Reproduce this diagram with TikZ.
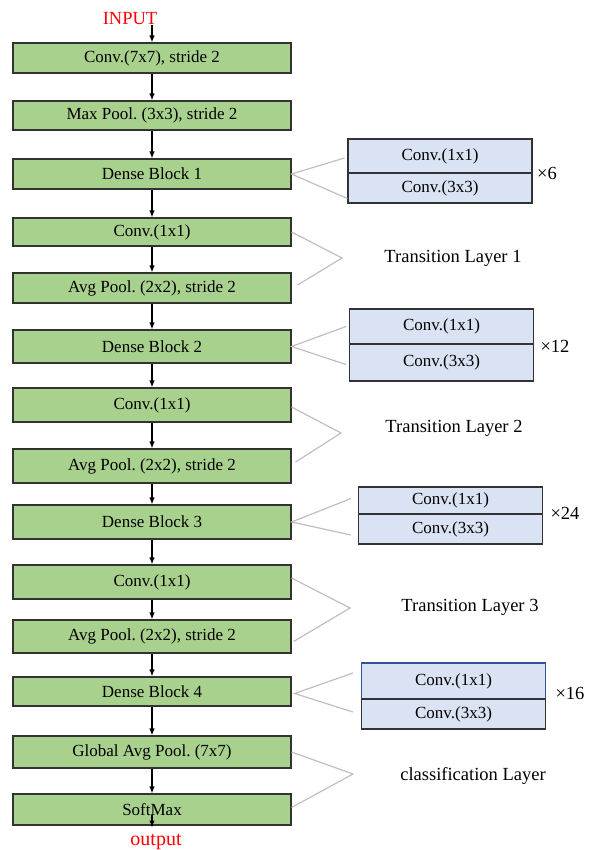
\documentclass[tikz,border=0pt]{standalone}
\usepackage{fontspec}
\setmainfont{Liberation Serif}
\usetikzlibrary{arrows.meta}
\frenchspacing

\definecolor{layergreen}{RGB}{169,209,142}
\definecolor{subblue}{RGB}{218,227,243}
\definecolor{chevgray}{RGB}{191,191,191}
\definecolor{edgeblue}{RGB}{47,85,151}

\tikzset{
  layer/.style={draw=black!80,line width=1.1pt,fill=layergreen,minimum width=278pt,minimum height=30pt,inner sep=0pt,font=\fontsize{17}{17}\selectfont},
  sub/.style={draw=black!80,line width=1.1pt,fill=subblue,minimum width=184pt,inner sep=0pt,font=\fontsize{17}{17}\selectfont},
  lbl/.style={inner sep=0pt,font=\fontsize{18.5}{18.5}\selectfont},
  arr/.style={-{Latex[length=7pt,width=5.5pt]},line width=1.2pt},
  chevron/.style={draw=chevgray,line width=1.2pt}
}

\begin{document}
\begin{tikzpicture}[x=1pt,y=-1pt]
\useasboundingbox (0,0) rectangle (591,850);
% main column
\node[lbl,text=red] (inp) at (130,19) {INPUT};
\node[layer] (c1) at (152,58) {Conv.(7x7), stride 2};
\node[layer,minimum height=29pt] (mp) at (152,115.5) {Max Pool. (3x3), stride 2};
\node[layer] (db1) at (152,174) {Dense Block 1};
\node[layer,minimum height=28pt] (tc1) at (152,232) {Conv.(1x1)};
\node[layer] (tp1) at (152,288) {Avg Pool. (2x2), stride 2};
\node[layer,minimum height=33pt] (db2) at (152,346.5) {Dense Block 2};
\node[layer,minimum height=34pt] (tc2) at (152,405) {Conv.(1x1)};
\node[layer,minimum height=34pt] (tp2) at (152,466) {Avg Pool. (2x2), stride 2};
\node[layer,minimum height=34pt] (db3) at (152,522) {Dense Block 3};
\node[layer,minimum height=34pt] (tc3) at (152,582) {Conv.(1x1)};
\node[layer,minimum height=33pt] (tp3) at (152,636.5) {Avg Pool. (2x2), stride 2};
\node[layer,minimum height=29pt] (db4) at (152,691.5) {Dense Block 4};
\node[layer,minimum height=32pt] (gap) at (152,752) {Global Avg Pool. (7x7)};
\node[layer,minimum height=31pt] (sm) at (152,809.5) {SoftMax};
\node[lbl,text=red,font=\fontsize{20}{20}\selectfont] (out) at (156,842) {output};

\draw[arr] (inp.south -| c1.north) -- (c1.north);
\draw[arr] (c1) -- (mp);
\draw[arr] (mp) -- (db1);
\draw[arr] (db1) -- (tc1);
\draw[arr] (tc1) -- (tp1);
\draw[arr] (tp1) -- (db2);
\draw[arr] (db2) -- (tc2);
\draw[arr] (tc2) -- (tp2);
\draw[arr] (tp2) -- (db3);
\draw[arr] (db3) -- (tc3);
\draw[arr] (tc3) -- (tp3);
\draw[arr] (tp3) -- (db4);
\draw[arr] (db4) -- (gap);
\draw[arr] (gap) -- (sm);
\draw[arr] ([yshift=11pt]sm.south) -- ([yshift=-2pt]sm.south);

% dense blocks
\node[sub,minimum height=34pt] (b1a) at (440,156) {Conv.(1x1)};
\node[sub,minimum height=30pt] (b1b) at (440,188) {Conv.(3x3)};
\node[lbl] (x1) at (547,173) {×6};
\draw[chevron] ([xshift=-3pt,yshift=-2pt]b1a.west) -- (db1.east) -- ([yshift=5pt]b1b.south west);

\node[sub,minimum height=35pt] (b2a) at (441.5,326.5) {Conv.(1x1)};
\node[sub,minimum height=37pt] (b2b) at (441.5,362.5) {Conv.(3x3)};
\node[lbl] (x2) at (555,346) {×12};
\draw[chevron] ([xshift=-3pt]b2a.west) -- (db2.east) -- ([xshift=-3pt,yshift=-2pt]b2b.west);

\node[sub,minimum height=27pt] (b3a) at (450.5,500.5) {Conv.(1x1)};
\node[sub,minimum height=30pt] (b3b) at (450.5,529) {Conv.(3x3)};
\node[lbl] (x3) at (565,513) {×24};
\draw[chevron] ([xshift=-7pt,yshift=2pt]b3a.west) -- (db3.east) -- ([xshift=-7pt,yshift=-6pt]b3b.west);

\node[sub,draw=edgeblue,minimum height=36pt] (b4a) at (453.5,681) {Conv.(1x1)};
\node[sub,minimum height=30pt] (b4b) at (453.5,714) {Conv.(3x3)};
\node[lbl] (x4) at (570,693) {×16};
\draw[chevron] ([xshift=-8pt,yshift=8pt]b4a.west) -- ([xshift=3pt,yshift=-2pt]db4.east) -- ([xshift=-8pt,yshift=2pt]b4b.west);

% transition and classification layers
\coordinate (t1) at (342,258);
\coordinate (t2) at (341,433);
\coordinate (t3) at (350,608);
\coordinate (t4) at (353,774);
\draw[chevron] (tc1.east) -- (t1) -- ([xshift=6pt,yshift=3pt]tp1.east);
\draw[chevron] ([yshift=-2pt]tc2.east) -- (t2) -- ([xshift=4pt,yshift=4pt]tp2.east);
\draw[chevron] ([yshift=4pt]tc3.east) -- (t3) -- ([xshift=2pt,yshift=-5pt]tp3.east);
\draw[chevron] (gap.east) -- (t4) -- ([yshift=2pt]sm.east);
\node[lbl] (l1) at (453,258) {Transition Layer 1};
\node[lbl] (l2) at (454,428) {Transition Layer 2};
\node[lbl] (l3) at (470,607) {Transition Layer 3};
\node[lbl] (l4) at (473,776) {classification Layer};
\end{tikzpicture}
\end{document}
